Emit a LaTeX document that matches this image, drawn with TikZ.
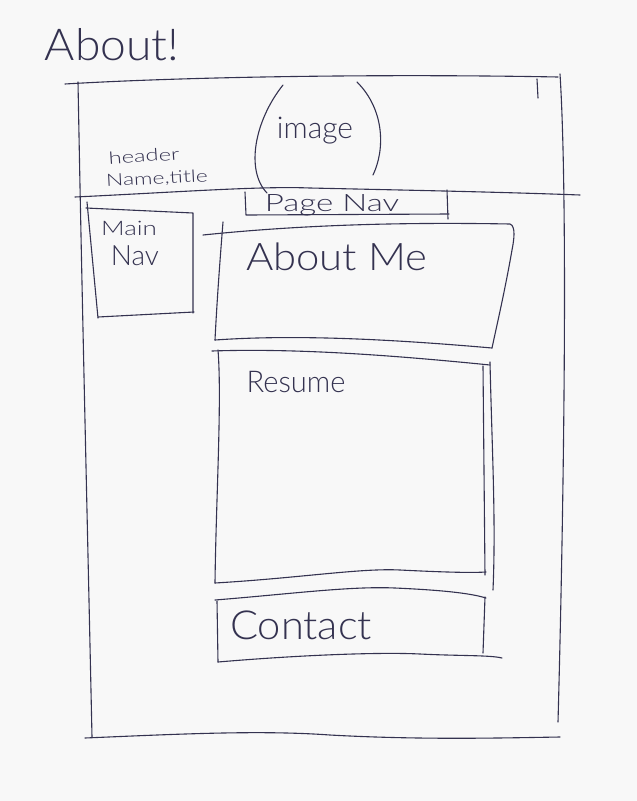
\documentclass[tikz,border=0pt]{standalone}
\usepackage{fontspec}
\setmainfont{Lato Light}
\definecolor{ink}{RGB}{52,50,80}
\definecolor{paper}{RGB}{248,248,248}
\newcommand{\fsz}[1]{\fontsize{#1}{#1}\selectfont}
\begin{document}
\begin{tikzpicture}[x=1pt,y=-1pt,
  pen/.style={draw=ink,line width=1.1pt,line cap=round,line join=round},
  hand/.style={text=ink,inner sep=0pt,anchor=center}]
\fill[paper] (0,0) rectangle (637,801);
\useasboundingbox (0,0) rectangle (637,801);

% page title
\node[hand,font=\fsz{44},xscale=1.05] (title) at (112,45) {About!};

% outer page frame
\draw[pen] (65,84) .. controls (200,76) and (400,74) .. (558,77);
\draw[pen] (78,82) .. controls (82,300) and (88,550) .. (92,737);
\draw[pen] (85,738) .. controls (180,734) and (260,730) .. (330,735) .. controls (420,740) and (500,738) .. (560,737);
\draw[pen] (560,74) .. controls (568,200) and (564,500) .. (558,722);
\draw[pen] (537,79) -- (538,98);

% header separator
\draw[pen] (75,197) .. controls (180,192) and (260,186) .. (310,188) .. controls (400,190) and (500,192) .. (580,195);

% header texts
\node[hand,font=\fsz{17},rotate=4,xscale=1.4] (header) at (144,156) {header};
\node[hand,font=\fsz{17},rotate=3,xscale=1.35] (nametitle) at (157,179) {Name,title};

% image placeholder
\draw[pen] (283,85) .. controls (255,120) and (245,170) .. (267,193);
\draw[pen] (357,82) .. controls (385,110) and (385,150) .. (373,175);
\node[hand,font=\fsz{30}] (image) at (315,131) {image};

% page navigation
\draw[pen] (245,192) -- (246,215) -- (449,214);
\draw[pen] (447,190) -- (448,219);
\node[hand,font=\fsz{24},xscale=1.38] (pagenav) at (332,205) {Page Nav};

% main navigation
\draw[pen] (87,202) -- (98,318);
\draw[pen] (86,208) -- (193,213) -- (193,313);
\draw[pen] (98,317) -- (194,312);
\node[hand,font=\fsz{20},xscale=1.3] (main) at (129,228) {Main};
\node[hand,font=\fsz{28}] (nav) at (135,256) {Nav};

% about me section
\draw[pen] (223,222) .. controls (220,260) and (217,300) .. (215,340);
\draw[pen] (203,235) .. controls (300,225) and (400,222) .. (510,224) .. controls (516,226) and (514,240) .. (512,250) .. controls (505,290) and (498,320) .. (492,348);
\draw[pen] (215,340) .. controls (300,334) and (400,340) .. (492,348);
\node[hand,font=\fsz{38},xscale=1.1] (aboutme) at (337,257) {About Me};

% resume section
\draw[pen] (218,350) .. controls (222,400) and (216,500) .. (215,583);
\draw[pen] (212,351) .. controls (300,348) and (400,356) .. (490,365);
\draw[pen] (483,366) -- (485,575);
\draw[pen] (490,362) .. controls (492,450) and (496,520) .. (493,590);
\draw[pen] (215,583) .. controls (300,578) and (360,568) .. (400,570) .. controls (440,572) and (470,573) .. (486,572);
\node[hand,font=\fsz{30},xscale=0.97] (resume) at (296,382) {Resume};

% contact section
\draw[pen] (215,600) .. controls (290,594) and (350,586) .. (395,588) .. controls (440,590) and (470,593) .. (486,598);
\draw[pen] (217,601) -- (218,662);
\draw[pen] (485,597) -- (483,653);
\draw[pen] (218,662) .. controls (300,655) and (380,652) .. (420,654) .. controls (460,656) and (490,655) .. (502,658);
\node[hand,font=\fsz{40},xscale=1.04] (contact) at (301,625) {Contact};
\end{tikzpicture}
\end{document}
